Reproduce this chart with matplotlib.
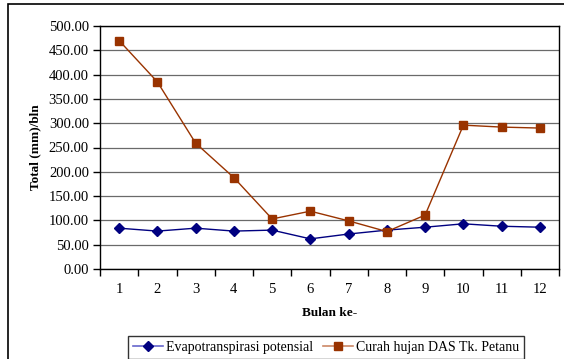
import matplotlib
matplotlib.use("Agg")
import matplotlib.pyplot as plt
from matplotlib.patches import Rectangle
from matplotlib.lines import Line2D

months = [1, 2, 3, 4, 5, 6, 7, 8, 9, 10, 11, 12]
month_labels = ["1", "2", "3", "4", "5", "6", "7", "8", "9", "10", "11", "12"]
evapo = [84, 78, 84, 78, 80, 62, 72, 80, 86, 93, 88, 86]
curah = [470, 385, 259, 188, 103, 119, 99, 77, 111, 296, 292, 290]
yticks = [0, 50, 100, 150, 200, 250, 300, 350, 400, 450, 500]

plt.rcParams['font.family'] = ['Liberation Serif', 'DejaVu Serif']

W, H = 564, 359
fig = plt.figure(figsize=(W / 100, H / 100), dpi=100)

# outer border
fig.add_artist(Rectangle((8 / W, -0.1), 1.2, 1 - 4.5 / H + 0.1, transform=fig.transFigure,
                         fill=False, edgecolor='black', linewidth=1.2))

ax = fig.add_axes([100 / W, 1 - 269 / H, 459 / W, 243 / H])
ax.set_xlim(0.5, 12.5)
ax.set_ylim(0, 500)

ax.set_yticks(yticks)
ax.set_yticklabels([f"{v:.2f}" for v in yticks], fontsize=10.5)
ax.yaxis.grid(True, color='#6a6a6a', linewidth=0.9)
ax.set_axisbelow(True)

ax.set_xticks([m - 0.5 for m in months] + [12.5])
ax.set_xticklabels([])
ax.set_xticks(months, minor=True)
ax.set_xticklabels(month_labels, minor=True, fontsize=10.5)
ax.tick_params(axis='x', which='minor', length=0, pad=10)
ax.tick_params(axis='x', which='major', length=5, direction='out', width=1)
ax.tick_params(axis='y', length=5, direction='out', width=1, pad=3)

for s in ax.spines.values():
    s.set_color('black')
    s.set_linewidth(1)

ax.plot(months, evapo, color='#000080', linewidth=1, marker='D', markersize=5.5,
        markerfacecolor='#000080', markeredgecolor='#000080')
ax.plot(months, curah, color='#993300', linewidth=1, marker='s', markersize=6,
        markerfacecolor='#993300', markeredgecolor='#993300')

ax.set_ylabel("Total (mm)/bln", fontsize=9.5, fontweight='bold', labelpad=5)
ax.set_xlabel("Bulan ke-", fontsize=9.5, fontweight='bold', labelpad=8)

handles = [
    Line2D([], [], color='#6666cc', linewidth=1.2, marker='D', markersize=5,
           markerfacecolor='#000080', markeredgecolor='#000080'),
    Line2D([], [], color='#cc8866', linewidth=1.2, marker='s', markersize=5.5,
           markerfacecolor='#993300', markeredgecolor='#993300'),
]
leg = fig.legend(handles, ["Evapotranspirasi potensial", "Curah hujan DAS Tk. Petanu"],
                 loc='upper center', bbox_to_anchor=(326 / W, 1 - 336 / H), ncol=2,
                 fontsize=10, frameon=True, fancybox=False, edgecolor='black',
                 handlelength=2.2, handletextpad=0.2, columnspacing=0.7,
                 borderpad=0.35, borderaxespad=0)
leg.get_frame().set_linewidth(1)

fig.savefig("out.png", dpi=100)
